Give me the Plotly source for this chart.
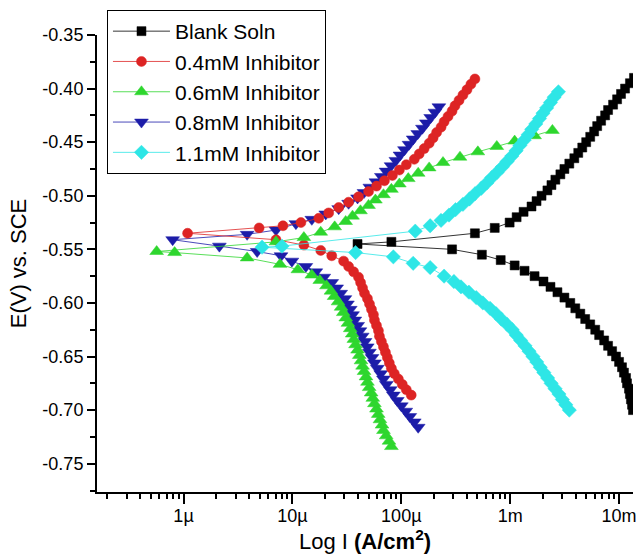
import plotly.graph_objects as go

# Potentiodynamic polarisation (Tafel) curves: potential E (V vs. SCE)
# against log10 of current density (A/cm^2), cathodic end -> anodic end.

E_blank = [-0.700, -0.695, -0.690, -0.685, -0.680, -0.675, -0.670, -0.665, -0.660, -0.655,
           -0.650, -0.645, -0.640, -0.635, -0.630, -0.625, -0.620, -0.615, -0.610, -0.605,
           -0.600, -0.595, -0.590, -0.585, -0.580, -0.575, -0.570, -0.565, -0.560, -0.555,
           -0.550, -0.545, -0.543,
           -0.535, -0.530, -0.525, -0.520, -0.515, -0.510, -0.505, -0.500, -0.495, -0.490,
           -0.485, -0.480, -0.475, -0.470, -0.465, -0.460, -0.455, -0.450, -0.445, -0.440,
           -0.435, -0.430, -0.425, -0.420, -0.415, -0.410, -0.405, -0.400, -0.395, -0.390]
logI_blank = [-1.872, -1.881, -1.891, -1.900, -1.909, -1.927, -1.936, -1.955, -1.973, -2.000,
              -2.028, -2.064, -2.101, -2.137, -2.183, -2.219, -2.265, -2.311, -2.356, -2.402,
              -2.448, -2.502, -2.566, -2.630, -2.694, -2.776, -2.868, -2.959, -3.087, -3.260,
              -3.534, -4.402, -4.091,
              -3.324, -3.142, -3.005, -2.941, -2.877, -2.804, -2.758, -2.712, -2.658, -2.621,
              -2.585, -2.539, -2.502, -2.457, -2.411, -2.375, -2.338, -2.302, -2.265, -2.229,
              -2.201, -2.165, -2.128, -2.101, -2.055, -2.018, -1.982, -1.945, -1.900, -1.863]

E_04 = [-0.686, -0.681, -0.676, -0.671, -0.666, -0.661, -0.656, -0.651, -0.646, -0.641,
        -0.636, -0.631, -0.626, -0.621, -0.616, -0.611, -0.606, -0.601, -0.596, -0.591,
        -0.586, -0.581, -0.576, -0.571, -0.566, -0.561, -0.556, -0.551, -0.546, -0.541,
        -0.535, -0.530, -0.528, -0.525,
        -0.521, -0.516, -0.511, -0.506, -0.501, -0.496, -0.491, -0.486, -0.481, -0.476,
        -0.471, -0.466, -0.461, -0.456, -0.451, -0.446, -0.441, -0.436, -0.431, -0.426,
        -0.421, -0.416, -0.411, -0.406, -0.401, -0.396, -0.391]
logI_04 = [-3.909, -3.954, -3.991, -4.027, -4.064, -4.091, -4.110, -4.128, -4.146, -4.164,
           -4.183, -4.201, -4.210, -4.228, -4.247, -4.256, -4.274, -4.292, -4.311, -4.338,
           -4.356, -4.374, -4.393, -4.438, -4.484, -4.530, -4.639, -4.740, -4.895, -5.151,
           -5.963, -5.306, -5.087, -4.922,
           -4.758, -4.667, -4.575, -4.484, -4.393, -4.301, -4.228, -4.155, -4.082, -4.018,
           -3.954, -3.881, -3.836, -3.790, -3.744, -3.708, -3.676, -3.635, -3.607, -3.571,
           -3.534, -3.507, -3.470, -3.434, -3.397, -3.361, -3.324]

E_06 = [-0.734, -0.729, -0.724, -0.719, -0.714, -0.709, -0.704, -0.699, -0.694, -0.689,
        -0.684, -0.679, -0.674, -0.669, -0.664, -0.659, -0.654, -0.649, -0.644, -0.639,
        -0.634, -0.629, -0.624, -0.619, -0.614, -0.609, -0.604, -0.599, -0.594, -0.589,
        -0.584, -0.579, -0.574, -0.569, -0.564,
        -0.558, -0.553, -0.552, -0.543,
        -0.539, -0.534, -0.529, -0.524, -0.519, -0.514, -0.509, -0.504, -0.499, -0.494,
        -0.489, -0.484, -0.479, -0.474, -0.469, -0.464, -0.459, -0.454, -0.449, -0.444,
        -0.439]
logI_06 = [-4.091, -4.113, -4.139, -4.164, -4.177, -4.196, -4.212, -4.228, -4.247, -4.262,
           -4.277, -4.295, -4.311, -4.324, -4.342, -4.356, -4.370, -4.386, -4.402, -4.420,
           -4.436, -4.451, -4.469, -4.490, -4.510, -4.533, -4.553, -4.581, -4.617, -4.646,
           -4.687, -4.749, -4.822, -4.950, -5.114,
           -5.416, -6.082, -6.247, -5.151,
           -4.895, -4.740, -4.612, -4.511, -4.448, -4.375, -4.301, -4.238, -4.164, -4.091,
           -4.018, -3.936, -3.845, -3.744, -3.617, -3.461, -3.297, -3.123, -2.959, -2.776,
           -2.612]

E_08 = [-0.716, -0.711, -0.706, -0.701, -0.696, -0.691, -0.686, -0.681, -0.676, -0.671,
        -0.666, -0.661, -0.656, -0.651, -0.646, -0.641, -0.636, -0.631, -0.626, -0.621,
        -0.616, -0.611, -0.606, -0.601, -0.596, -0.591, -0.586, -0.581, -0.576, -0.571,
        -0.566, -0.561,
        -0.556, -0.552, -0.547, -0.541, -0.536, -0.532, -0.526,
        -0.522, -0.517, -0.512, -0.507, -0.502, -0.497, -0.492, -0.487, -0.482, -0.477,
        -0.472, -0.467, -0.462, -0.457, -0.452, -0.447, -0.442, -0.437, -0.432, -0.427,
        -0.422, -0.417]
logI_08 = [-3.845, -3.881, -3.922, -3.959, -4.000, -4.037, -4.073, -4.101, -4.137, -4.164,
           -4.189, -4.220, -4.247, -4.269, -4.293, -4.313, -4.333, -4.359, -4.380, -4.401,
           -4.427, -4.448, -4.469, -4.495, -4.518, -4.557, -4.594, -4.639, -4.712, -4.785,
           -4.877, -5.005,
           -5.105, -5.324, -5.671, -6.100, -5.416, -5.151, -4.968,
           -4.822, -4.694, -4.575, -4.484, -4.402, -4.343, -4.289, -4.233, -4.183, -4.140,
           -4.094, -4.050, -4.012, -3.971, -3.929, -3.891, -3.849, -3.806, -3.770, -3.730,
           -3.691, -3.655]

E_11 = [-0.700, -0.695, -0.690, -0.685, -0.680, -0.675, -0.670, -0.665, -0.660, -0.655,
        -0.650, -0.645, -0.640, -0.635, -0.630, -0.625, -0.620, -0.615, -0.610, -0.605,
        -0.600, -0.595, -0.590, -0.585, -0.580, -0.575,
        -0.567, -0.563, -0.557, -0.553, -0.548, -0.547,
        -0.533, -0.528, -0.523, -0.518, -0.513, -0.508, -0.503, -0.498, -0.493, -0.488,
        -0.483, -0.478, -0.473, -0.468, -0.463, -0.458, -0.453, -0.448, -0.443, -0.438,
        -0.433, -0.428, -0.423, -0.418, -0.413, -0.408, -0.403]
logI_11 = [-2.457, -2.489, -2.521, -2.552, -2.588, -2.624, -2.656, -2.691, -2.724, -2.756,
           -2.791, -2.827, -2.864, -2.904, -2.944, -2.981, -3.029, -3.082, -3.130, -3.185,
           -3.251, -3.312, -3.379, -3.452, -3.517, -3.607,
           -3.735, -3.891, -4.073, -4.420, -5.279, -5.096,
           -3.872, -3.735, -3.635, -3.562, -3.502, -3.434, -3.374, -3.322, -3.265, -3.215,
           -3.169, -3.119, -3.072, -3.029, -2.985, -2.946, -2.911, -2.871, -2.835, -2.802,
           -2.765, -2.731, -2.699, -2.665, -2.630, -2.596, -2.557]

x_tick_vals = [1e-6, 1e-5, 1e-4, 1e-3, 1e-2]
x_tick_text = ["1µ", "10µ", "100µ", "1m", "10m"]
y_tick_vals = [-0.35, -0.40, -0.45, -0.50, -0.55, -0.60, -0.65, -0.70, -0.75]

FONT = "Liberation Sans, Arial, sans-serif"

# (label, E, logI, colour, marker symbol, marker size, legend rank)
series = [
    ("Blank Soln", E_blank, logI_blank, "#000000", "square", 9, 1),
    ("0.8mM Inhibitor", E_08, logI_08, "#1c1ca8", "triangle-down", 12, 4),
    ("0.4mM Inhibitor", E_04, logI_04, "#dd2424", "circle", 10, 2),
    ("0.6mM Inhibitor", E_06, logI_06, "#2ed62e", "triangle-up", 12, 3),
    ("1.1mM Inhibitor", E_11, logI_11, "#2ee6e6", "diamond", 11, 5),
]

fig = go.Figure()
for name, E, logI, color, symbol, size, rank in series:
    assert len(E) == len(logI), name
    fig.add_trace(go.Scatter(
        x=[10 ** v for v in logI], y=E, mode="lines+markers", name=name,
        line=dict(color=color, width=0.8),
        marker=dict(symbol=symbol, size=size, color=color, line=dict(color=color, width=0.5)),
        legendrank=rank,
    ))

minor_x = [d * 10.0 ** k for k in range(-7, -1) for d in range(2, 10)]

fig.update_layout(
    width=636, height=554, autosize=False,
    margin=dict(l=97, r=0, t=35, b=62),
    paper_bgcolor="white", plot_bgcolor="white",
    font=dict(family=FONT, color="black"),
    showlegend=True,
    legend=dict(
        x=0.0186, y=1.0547, xanchor="left", yanchor="top",
        bgcolor="white", bordercolor="black", borderwidth=1,
        font=dict(size=21, family=FONT), itemwidth=57,
        traceorder="normal",
    ),
    xaxis=dict(
        type="log", range=[-6.795, -1.872],
        showline=True, linecolor="black", linewidth=2, mirror=False,
        showgrid=False, zeroline=False,
        ticks="outside", ticklen=10, tickwidth=2, tickcolor="black",
        tickvals=x_tick_vals, ticktext=x_tick_text,
        tickfont=dict(size=18, family=FONT),
        ticklabeloverflow="allow", ticklabelstandoff=-4,
        minor=dict(ticks="outside", ticklen=5, tickwidth=2, tickcolor="black",
                   tickvals=minor_x, showgrid=False),
        title=dict(text="Log I <b>(A/cm<sup>2</sup>)</b>", font=dict(size=22, family=FONT),
                   standoff=6),
    ),
    yaxis=dict(
        range=[-0.7764, -0.35],
        showline=True, linecolor="black", linewidth=2, mirror=False,
        showgrid=False, zeroline=False,
        ticks="outside", ticklen=8, tickwidth=2, tickcolor="black",
        tickvals=y_tick_vals, ticktext=[f"{v:.2f}" for v in y_tick_vals],
        tickfont=dict(size=18, family=FONT),
        minor=dict(ticks="outside", ticklen=5, tickwidth=2, tickcolor="black",
                   dtick=0.025, tick0=-0.35, showgrid=False),
        title=dict(text="E(V) vs. SCE", font=dict(size=22, family=FONT), standoff=10),
    ),
)

fig.write_html("out.html")
